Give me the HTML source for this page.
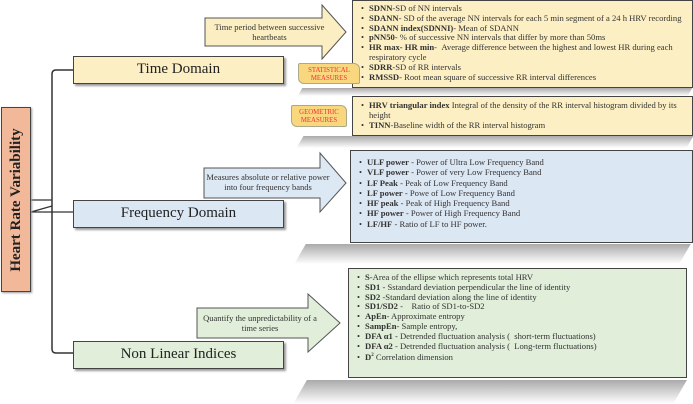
<!DOCTYPE html>
<html><head><style>
body{margin:0;width:693px;height:404px;background:#fff;position:relative;overflow:hidden;font-family:"Liberation Serif",serif;}
.a{position:absolute;box-sizing:border-box;}
.main{border:1.5px solid #444;font-size:15px;color:#222;text-align:center;line-height:25px;box-shadow:2px 2px 2px #999;}
.box{border:1.5px solid #444;font-size:8.6px;line-height:9.8px;color:#333;padding:3px 4px 0 8px;}
.box div{padding-left:8px;text-indent:-8px;}
.box div:before{content:"•";display:inline-block;width:8px;text-indent:0;}
.sh{background:linear-gradient(#aaa,#fff);transform:skewX(-30deg);}
.tag{background:#f8d77f;border:1px solid #aa8;color:#e33;font-size:6.8px;line-height:8px;text-align:center;padding-top:3px;border-radius:2px 6px 2px 6px;}
.al{font-size:8.5px;color:#333;text-align:center;line-height:10px;}
</style></head><body>
<div class="a sh" style="left:300px;top:88px;width:390px;height:8px"></div>
<div class="a sh" style="left:300px;top:136px;width:390px;height:12px"></div>
<div class="a sh" style="left:300px;top:244px;width:385px;height:20px"></div>
<div class="a sh" style="left:300px;top:380px;width:380px;height:24px"></div>

<svg class="a" style="left:0;top:0" width="693" height="404">
<path d="M74 70 H56 Q52 70 52 74 V349 Q52 353 56 353 H74" fill="none" stroke="#333" stroke-width="1.5"/>
<path d="M31 200 H52 M31 212 H73 M52 206 L31 212" fill="none" stroke="#333" stroke-width="1.2"/>
<polygon points="205,18 322,18 322,5 346,32 322,59 322,46 205,46" fill="#fbeec2" stroke="#555" stroke-width="1"/>
<polygon points="204,168 320,168 320,153 346,183 320,212 320,198 204,198" fill="#dde8f5" stroke="#555" stroke-width="1"/>
<polygon points="197,308 308,308 308,294 340,323 308,352 308,338 197,338" fill="#e1eed9" stroke="#555" stroke-width="1"/>
</svg>
<div class="a al" style="left:207px;top:22px;width:125px">Time period between successive heartbeats</div>
<div class="a al" style="left:206px;top:172px;width:124px">Measures absolute or relative power into four frequency bands</div>
<div class="a al" style="left:199px;top:313px;width:122px">Quantify the unpredictability of a time series</div>

<div class="a" style="left:1px;top:107px;width:30px;height:185px;background:#f2b89a;border:1.5px solid #444;box-shadow:1px 1px 2px #999"></div>
<div class="a" style="left:16px;top:200px;width:0;height:0"><div style="position:absolute;left:-92px;top:-10px;width:184px;text-align:center;transform:rotate(-90deg);font-weight:bold;font-size:15px;color:#222;line-height:20px">Heart Rate Variability</div></div>

<div class="a main" style="left:73px;top:56px;width:211px;height:28px;background:#fcefc4">Time Domain</div>
<div class="a main" style="left:73px;top:200px;width:211px;height:28px;background:#dce7f4">Frequency Domain</div>
<div class="a main" style="left:73px;top:341px;width:211px;height:28px;background:#e1eed9">Non Linear Indices</div>

<div class="a box" style="left:352px;top:0;width:341px;height:88px;background:#fcefc4">
<div><b>SDNN</b>-SD of NN intervals</div>
<div><b>SDANN</b>- SD of the average NN intervals for each 5 min segment of a 24 h HRV recording</div>
<div><b>SDANN index(SDNNI)</b>- Mean of SDANN</div>
<div><b>pNN50</b>- % of successive NN intervals that differ by more than 50ms</div>
<div><b>HR max- HR min</b>- &nbsp;Average difference between the highest and lowest HR during each respiratory cycle</div>
<div><b>SDRR</b>-SD of RR intervals</div>
<div><b>RMSSD</b>- Root mean square of successive RR interval differences</div>
</div>
<div class="a box" style="left:352px;top:96px;width:341px;height:40px;background:#fcefc4;padding-top:4px">
<div><b>HRV triangular index</b> Integral of the density of the RR interval histogram divided by its height</div>
<div><b>TINN</b>-Baseline width of the RR interval histogram</div>
</div>
<div class="a tag" style="left:298px;top:63px;width:62px;height:21px">STATISTICAL<br>MEASURES</div>
<div class="a tag" style="left:291px;top:105px;width:56px;height:22px">GEOMETRIC<br>MEASURES</div>

<div class="a box" style="left:350px;top:150px;width:343px;height:93px;background:#dce7f4;padding-top:6px;line-height:10.3px">
<div><b>ULF power</b> - Power of Ultra Low Frequency Band</div>
<div><b>VLF power</b> - Power of very Low Frequency Band</div>
<div><b>LF Peak</b> - Peak of Low Frequency Band</div>
<div><b>LF power</b> - Powe of Low Frequency Band</div>
<div><b>HF peak</b> - Peak of High Frequency Band</div>
<div><b>HF power</b> - Power of High Frequency Band</div>
<div><b>LF/HF</b> - Ratio of LF to HF power.</div>
</div>

<div class="a box" style="left:348px;top:268px;width:339px;height:110px;background:#e1eed9;padding-top:4px;line-height:9.8px">
<div><b>S</b>-Area of the ellipse which represents total HRV</div>
<div><b>SD1</b> - Sstandard deviation perpendicular the line of identity</div>
<div><b>SD2</b> -Standard deviation along the line of identity</div>
<div><b>SD1/SD2</b> - &nbsp;&nbsp;&nbsp;Ratio of SD1-to-SD2</div>
<div><b>ApEn</b>- Approximate entropy</div>
<div><b>SampEn</b>- Sample entropy,</div>
<div><b>DFA α1</b> - Detrended fluctuation analysis ( &nbsp;short-term fluctuations)</div>
<div><b>DFA α2</b> - Detrended fluctuation analysis ( &nbsp;Long-term fluctuations)</div>
<div><b>D<sup style="font-size:5px">2</sup></b> Correlation dimension</div>
</div>
</body></html>
